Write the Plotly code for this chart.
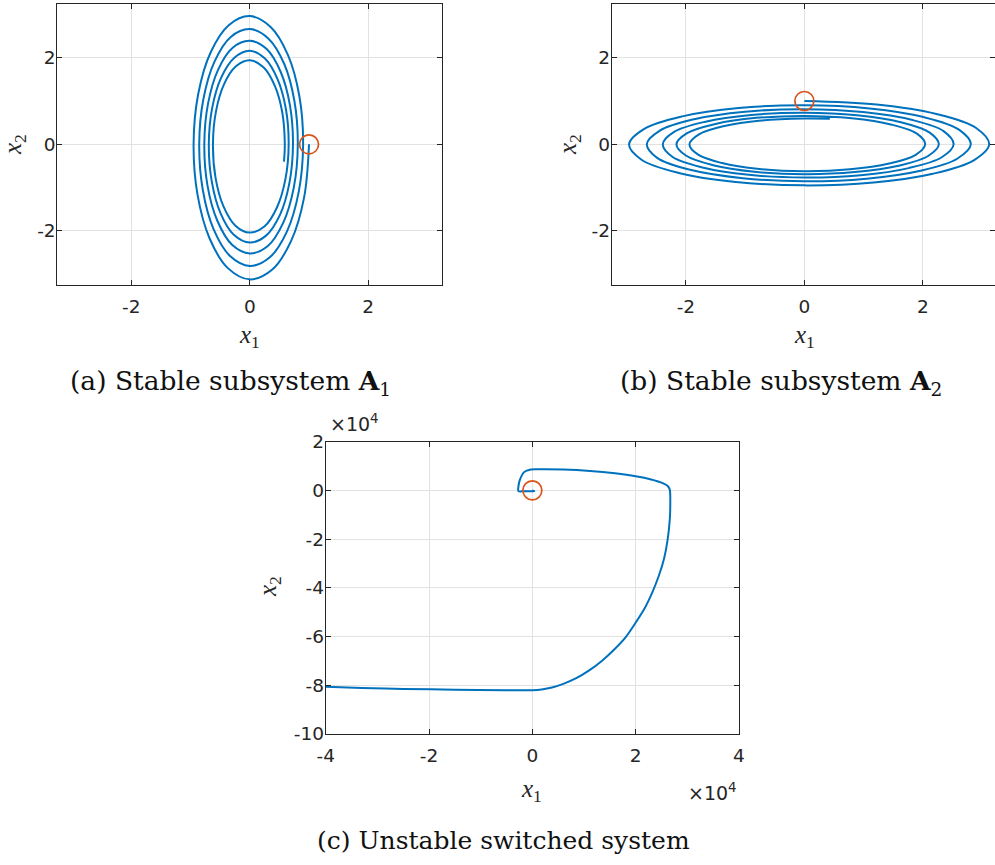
import plotly.graph_objects as go

# ---------------------------------------------------------------
# Phase-plane trajectories (x1, x2)
# ---------------------------------------------------------------
# (a) stable subsystem A1 : clockwise spiral starting at (1, 0)
a_x1 = [1.000, 0.918, 0.698, 0.375, 0.000, -0.371, -0.680, -0.882,
        -0.949, -0.871, -0.662, -0.356, 0.000, 0.352, 0.645, 0.837,
        0.900, 0.826, 0.628, 0.338, 0.000, -0.334, -0.612, -0.794,
        -0.854, -0.784, -0.596, -0.321, 0.000, 0.316, 0.580, 0.753,
        0.810, 0.744, 0.565, 0.304, 0.000, -0.300, -0.550, -0.715,
        -0.768, -0.705, -0.536, -0.289, 0.000, 0.285, 0.522, 0.678,
        0.729, 0.669, 0.509, 0.274, 0.000, -0.270, -0.495, -0.643,
        -0.692, -0.635, -0.483, -0.260, 0.000, 0.256, 0.470, 0.610,
        0.656, 0.602, 0.458, 0.246, 0.000, -0.243, -0.446, -0.579,
        -0.622, -0.571, -0.434, -0.234, 0.000, 0.231, 0.423, 0.549,
        0.591, 0.577]
a_x2 = [0.00, -1.22, -2.23, -2.90, -3.12, -2.86, -2.17, -1.17,
        0.00, 1.16, 2.12, 2.75, 2.96, 2.71, 2.06, 1.11,
        0.00, -1.10, -2.01, -2.61, -2.81, -2.58, -1.96, -1.05,
        0.00, 1.04, 1.91, 2.48, 2.66, 2.44, 1.86, 1.00,
        0.00, -0.99, -1.81, -2.35, -2.52, -2.32, -1.76, -0.95,
        0.00, 0.94, 1.72, 2.23, 2.39, 2.20, 1.67, 0.90,
        0.00, -0.89, -1.63, -2.11, -2.27, -2.09, -1.59, -0.85,
        0.00, 0.84, 1.54, 2.00, 2.16, 1.98, 1.50, 0.81,
        0.00, -0.80, -1.46, -1.90, -2.04, -1.88, -1.43, -0.77,
        0.00, 0.76, 1.39, 1.80, 1.94, 1.78, 1.35, 0.73,
        0.00, -0.40]
a_start = (1.0, 0.0)

# (b) stable subsystem A2 : clockwise spiral starting at (0, 1)
b_x1 = [0.00, 1.22, 2.23, 2.90, 3.12, 2.86, 2.17, 1.17,
        0.00, -1.16, -2.12, -2.75, -2.96, -2.71, -2.06, -1.11,
        0.00, 1.10, 2.01, 2.61, 2.81, 2.58, 1.96, 1.05,
        0.00, -1.04, -1.91, -2.48, -2.66, -2.44, -1.86, -1.00,
        0.00, 0.99, 1.81, 2.35, 2.52, 2.32, 1.76, 0.95,
        0.00, -0.94, -1.72, -2.23, -2.39, -2.20, -1.67, -0.90,
        0.00, 0.89, 1.63, 2.11, 2.27, 2.09, 1.59, 0.85,
        0.00, -0.84, -1.54, -2.00, -2.16, -1.98, -1.50, -0.81,
        0.00, 0.80, 1.46, 1.90, 2.04, 1.88, 1.43, 0.77,
        0.00, -0.76, -1.39, -1.80, -1.94, -1.78, -1.35, -0.73,
        0.00, 0.43]
b_x2 = [1.000, 0.918, 0.698, 0.375, 0.000, -0.371, -0.680, -0.882,
        -0.949, -0.871, -0.662, -0.356, 0.000, 0.352, 0.645, 0.837,
        0.900, 0.826, 0.628, 0.338, 0.000, -0.334, -0.612, -0.794,
        -0.854, -0.784, -0.596, -0.321, 0.000, 0.316, 0.580, 0.753,
        0.810, 0.744, 0.565, 0.304, 0.000, -0.300, -0.550, -0.715,
        -0.768, -0.705, -0.536, -0.289, 0.000, 0.285, 0.522, 0.678,
        0.729, 0.669, 0.509, 0.274, 0.000, -0.270, -0.495, -0.643,
        -0.692, -0.635, -0.483, -0.260, 0.000, 0.256, 0.470, 0.610,
        0.656, 0.602, 0.458, 0.246, 0.000, -0.243, -0.446, -0.579,
        -0.622, -0.571, -0.434, -0.234, 0.000, 0.231, 0.423, 0.549,
        0.595, 0.590]
b_start = (0.0, 1.0)

# (c) unstable switched system, values in units of 1e4
c_x1 = [0.00, 0.04, 0.00, -0.10, -0.20, -0.27, -0.27, -0.245, -0.16, -0.03,
        0.16, 0.60, 1.12, 1.60, 2.00, 2.30, 2.50, 2.62, 2.66,
        2.67, 2.66, 2.62, 2.55, 2.45, 2.32, 2.16, 1.98, 1.80, 1.58,
        1.35, 1.10, 0.85, 0.60, 0.38, 0.18, 0.00,
        -0.50, -1.50, -2.50, -3.30, -4.00]
c_x2 = [0.00, -0.03, -0.04, -0.04, -0.04, -0.03, 0.15, 0.41, 0.75, 0.86,
        0.87, 0.86, 0.80, 0.70, 0.58, 0.45, 0.32, 0.18, 0.03,
        -0.50, -1.20, -2.00, -2.80, -3.50, -4.20, -4.90, -5.50, -6.05, -6.55,
        -7.00, -7.40, -7.72, -7.95, -8.10, -8.18, -8.21,
        -8.21, -8.19, -8.16, -8.12, -8.07]
c_start = (0.0, 0.0)
c_scale = 1e4

# tick values / labels
ab_ticks = [-2, 0, 2]
ab_ticktext = ["-2", "0", "2"]
c_xticks = [-4, -2, 0, 2, 4]
c_yticks = [-10, -8, -6, -4, -2, 0, 2]

captions = ["(a) Stable subsystem <b>A</b><sub>1</sub>",
            "(b) Stable subsystem <b>A</b><sub>2</sub>",
            "(c) Unstable switched system"]

# ---------------------------------------------------------------
W, H = 995, 865
BLUE = "#0072BD"
ORANGE = "#D95319"
AX = "#262626"
GRID = "#e2e2e2"


def fx(p):
    return p / W


def fy(p):
    return 1 - p / H


fig = go.Figure()


def add_traj(xs, ys, start, ax, smooth):
    fig.add_trace(go.Scatter(
        x=xs, y=ys, mode="lines", xaxis="x" + ax, yaxis="y" + ax,
        line=dict(color=BLUE, width=2, shape="spline", smoothing=smooth),
        hoverinfo="skip", showlegend=False))
    fig.add_trace(go.Scatter(
        x=[start[0]], y=[start[1]], mode="markers", xaxis="x" + ax, yaxis="y" + ax,
        marker=dict(symbol="circle-open", size=19, color=ORANGE,
                    line=dict(color=ORANGE, width=1.7)),
        hoverinfo="skip", showlegend=False))


add_traj(a_x1, a_x2, a_start, "", 1.0)
add_traj(b_x1, b_x2, b_start, "2", 1.0)
add_traj([v * c_scale for v in c_x1], [v * c_scale for v in c_x2],
         (c_start[0] * c_scale, c_start[1] * c_scale), "3", 0.9)

tickfont = dict(family="DejaVu Sans", size=18.5, color=AX)


def axis(domain, rng, tickvals, ticktext, anchor, standoff):
    return dict(domain=domain, range=rng, tickvals=tickvals, ticktext=ticktext,
                anchor=anchor, showgrid=True, gridcolor=GRID, gridwidth=1,
                zeroline=False, showline=True, linecolor=AX, linewidth=1,
                mirror="ticks", ticks="inside", ticklen=5, tickcolor=AX,
                tickfont=tickfont, ticklabelstandoff=standoff,
                automargin=False, fixedrange=True)


XS, YS = 5, -3
ya_dom = [fy(285), fy(4)]
fig.update_layout(
    width=W, height=H, margin=dict(l=0, r=0, t=0, b=0, pad=0),
    paper_bgcolor="white", plot_bgcolor="white", showlegend=False,
    xaxis=axis([fx(57.3), fx(442.3)], [-3.25, 3.25], ab_ticks, ab_ticktext, "y", XS),
    yaxis=axis(ya_dom, [-3.25, 3.24], ab_ticks, ab_ticktext, "x", YS),
    xaxis2=axis([fx(611.7), fx(994.5)], [-3.253, 3.21], ab_ticks, ab_ticktext, "y2", XS),
    yaxis2=axis(ya_dom, [-3.25, 3.24], ab_ticks, ab_ticktext, "x2", YS),
    xaxis3=axis([fx(325.7), fx(739)], [-4 * c_scale, 4 * c_scale],
                [v * c_scale for v in c_xticks], [str(v) for v in c_xticks], "y3", XS),
    yaxis3=axis([fy(733.7), fy(441.7)], [-10 * c_scale, 2 * c_scale],
                [v * c_scale for v in c_yticks], [str(v) for v in c_yticks], "x3", YS),
)

label_font = dict(family="Liberation Serif", size=25, color=AX)
exp_font = dict(family="DejaVu Sans", size=19, color=AX)

notes = []
# axis titles
for cx, cy in [(249.3, 336), (804.3, 336), (531.7, 790)]:
    notes.append(dict(text="<i>x</i><sub>1</sub>", x=fx(cx), y=fy(cy),
                      font=label_font))
for cx, cy in [(15, 145), (570, 145), (269, 587)]:
    notes.append(dict(text="<i>x</i><sub>2</sub>", x=fx(cx), y=fy(cy),
                      font=label_font, textangle=-90))
# exponent labels of panel (c)
notes.append(dict(text="\u00d710<sup>4</sup>", x=fx(354), y=fy(423), font=exp_font))
notes.append(dict(text="\u00d710<sup>4</sup>", x=fx(712), y=fy(792), font=exp_font))
# captions
for txt, cx, cy, sz in zip(captions, [230.5, 781, 503.5], [383, 383, 840],
                           [26.5, 26.5, 25]):
    notes.append(dict(text=txt, x=fx(cx), y=fy(cy),
                      font=dict(family="DejaVu Serif", size=sz, color="#111111")))

for n in notes:
    n.update(xref="paper", yref="paper", xanchor="center", yanchor="middle",
             showarrow=False)
fig.update_layout(annotations=notes)

fig.write_html(
    "out.html",
    config={"displayModeBar": False},
    post_script="document.body.style.margin='0';"
                "document.body.style.overflow='hidden';",
)
